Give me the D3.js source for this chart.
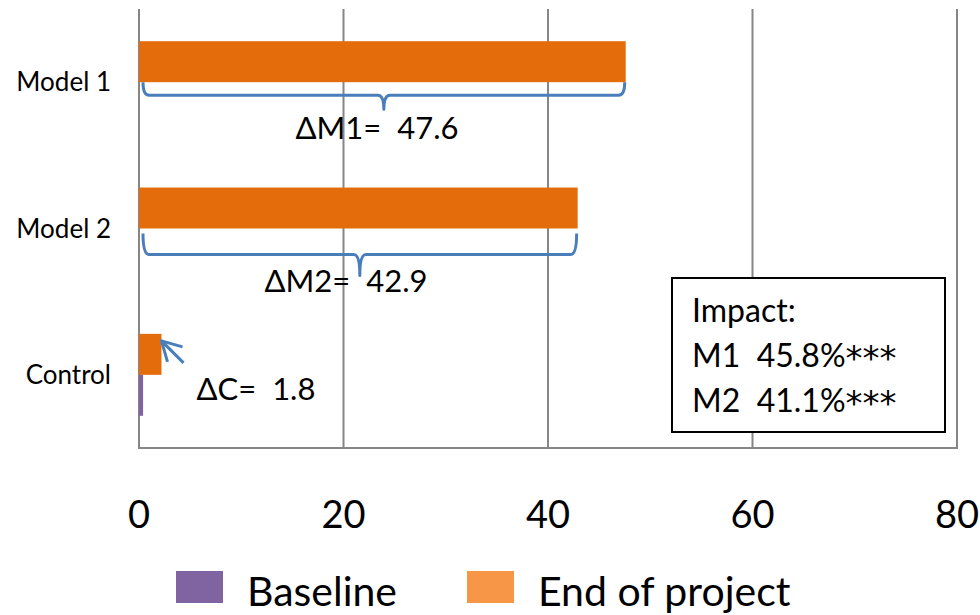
<!DOCTYPE html>
<html>
<head>
<meta charset="utf-8">
<script src="https://cdn.jsdelivr.net/npm/d3@7/dist/d3.min.js"></script>
<style>
  html, body { margin: 0; padding: 0; background: #fff; }
  svg { display: block; font-family: Lato, "Noto Sans", sans-serif; }
  text { white-space: pre; }
</style>
</head>
<body>
<svg id="chart" width="980" height="615"></svg>
<script>
// Survey scores by group, at baseline and at the end of the project
const categories = ["Model 1", "Model 2", "Control"];
const baselineValues = [0, 0, 0.4];
const endValues = [47.6, 42.9, 2.2];
const deltaNames = ["ΔM1", "ΔM2", "ΔC"];
const xTicks = [0, 20, 40, 60, 80];
const seriesNames = ["Baseline", "End of project"];
const impactLines = [["Impact:", ""], ["M1  45.8%", "***"], ["M2  41.1%", "***"]];

const barColors = { base: "#8064A2", end: "#E46C0A" };
const legendColors = ["#8064A2", "#F79646"];
const gridColor = "#868686";
const braceColor = "#4A7EBB";

const svg = d3.select("#chart");
const plot = { left: 139, right: 957, top: 9, bottom: 448 };

const x = d3.scaleLinear().domain([0, 80]).range([plot.left, plot.right]);
const y = d3.scaleBand().domain(categories)
  .range([plot.top, plot.bottom]).paddingInner(0.44).paddingOuter(0.22);
const sub = d3.scaleBand().domain(["end", "base"]).range([0, y.bandwidth()]);

const rows = categories.map((c, i) => ({
  cat: c, base: baselineValues[i], end: endValues[i], name: deltaNames[i]
}));

// vertical gridlines (and the category axis line at 0)
svg.append("g").selectAll("line").data(xTicks).join("line")
  .attr("x1", d => x(d)).attr("x2", d => x(d))
  .attr("y1", plot.top).attr("y2", plot.bottom)
  .attr("stroke", gridColor).attr("stroke-width", 2);
svg.append("line")
  .attr("x1", x(0) - 1).attr("x2", x(80) + 1)
  .attr("y1", plot.bottom).attr("y2", plot.bottom)
  .attr("stroke", gridColor).attr("stroke-width", 2);

// x tick labels
svg.append("g").selectAll("text").data(xTicks).join("text")
  .attr("x", d => x(d)).attr("y", 528)
  .attr("text-anchor", "middle")
  .attr("font-size", 38).attr("fill", "#000")
  .text(d => d);

// category labels
svg.append("g").selectAll("text").data(categories).join("text")
  .attr("x", 111).attr("y", d => y(d) + y.bandwidth() / 2 + 9)
  .attr("text-anchor", "end")
  .attr("font-size", 26).attr("fill", "#000")
  .text(d => d);

// bars
const bars = svg.append("g");
bars.selectAll("rect.end").data(rows).join("rect").attr("class", "end")
  .attr("x", x(0)).attr("y", d => y(d.cat) + sub("end"))
  .attr("width", d => x(d.end) - x(0)).attr("height", sub.bandwidth())
  .attr("fill", barColors.end);
bars.selectAll("rect.base").data(rows).join("rect").attr("class", "base")
  .attr("x", x(0)).attr("y", d => y(d.cat) + sub("base"))
  .attr("width", d => x(d.base) - x(0)).attr("height", sub.bandwidth())
  .attr("fill", barColors.base);

// curly braces under the two model bars
const braces = [
  { i: 0, gap: 0, flat: 13, tip: 14, label: { x: 377, y: 139 } },
  { i: 1, gap: 5, flat: 26, tip: 21, label: { x: 346, y: 292 } }
];
const r = 6;
braces.forEach(b => {
  const d = rows[b.i];
  const x0 = x(d.base) + 4, x1 = x(d.end) - 1;
  const xm = (x0 + x1) / 2;
  const top = y(d.cat) + sub("base") + b.gap;
  const flat = y(d.cat) + sub("base") + b.flat;
  const tip = flat + b.tip;
  const p = d3.path();
  p.moveTo(x0, top);
  p.quadraticCurveTo(x0, flat, x0 + r, flat);
  p.lineTo(xm - r, flat);
  p.quadraticCurveTo(xm, flat, xm, tip);
  p.quadraticCurveTo(xm, flat, xm + r, flat);
  p.lineTo(x1 - r, flat);
  p.quadraticCurveTo(x1, flat, x1, top);
  svg.append("path").attr("d", p.toString())
    .attr("fill", "none").attr("stroke", braceColor)
    .attr("stroke-width", 3).attr("stroke-linejoin", "round");
  svg.append("text")
    .attr("x", b.label.x).attr("y", b.label.y)
    .attr("text-anchor", "middle").attr("font-size", 31)
    .text(`${d.name}=  ${d3.format(".1f")(d.end - d.base)}`);
});

// arrow pointing at the control bar
const c = rows[2];
const tipX = x(c.end), tipY = y(c.cat) + 7;
svg.append("line")
  .attr("x1", tipX + 22).attr("y1", tipY + 22)
  .attr("x2", tipX).attr("y2", tipY)
  .attr("stroke", braceColor).attr("stroke-width", 3);
svg.append("path")
  .attr("d", `M${tipX + 21},${tipY + 6} L${tipX},${tipY} L${tipX + 6},${tipY + 21}`)
  .attr("fill", "none").attr("stroke", braceColor).attr("stroke-width", 3)
  .attr("stroke-linejoin", "round");
svg.append("text")
  .attr("x", 256).attr("y", 400)
  .attr("text-anchor", "middle").attr("font-size", 31)
  .text(`${c.name}=  ${d3.format(".1f")(c.end - c.base)}`);

// impact box
const box = svg.append("g");
box.append("rect").attr("x", 672).attr("y", 278).attr("width", 273).attr("height", 154)
  .attr("fill", "#fff").attr("stroke", "#000").attr("stroke-width", 2);
const lines = box.selectAll("text").data(impactLines).join("text")
  .attr("x", 692).attr("y", (d, i) => 322 + i * 45)
  .attr("font-size", 32).attr("fill", "#000");
lines.append("tspan").text(d => d[0]);
lines.append("tspan").attr("font-family", "'DejaVu Sans'").attr("font-size", 34)
  .attr("dy", 3).text(d => d[1]);

// legend
const legendX = [176, 467];
const legend = svg.append("g").selectAll("g").data(seriesNames).join("g")
  .attr("transform", (d, i) => `translate(${legendX[i]},571)`);
legend.append("rect").attr("width", 47).attr("height", 32)
  .attr("fill", (d, i) => legendColors[i]);
legend.append("text").attr("x", 71).attr("y", 35)
  .attr("font-size", 41).attr("fill", "#000")
  .text(d => d);
</script>
</body>
</html>
